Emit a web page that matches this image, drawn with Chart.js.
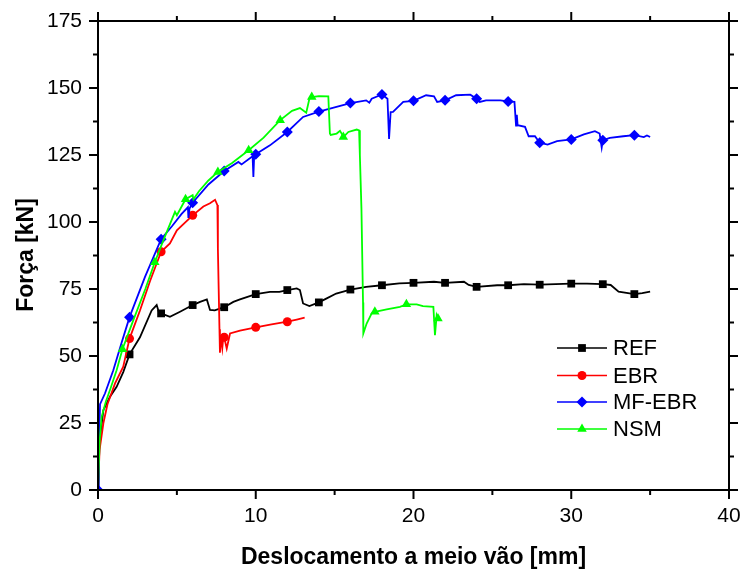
<!DOCTYPE html>
<html>
<head>
<meta charset="utf-8">
<script src="https://cdn.jsdelivr.net/npm/chart.js@4.4.1/dist/chart.umd.min.js"></script>
<style>
  html, body { margin: 0; padding: 0; background: #fff; }
</style>
</head>
<body>
<canvas id="graph" width="743" height="569"></canvas>
<script>
// tick labels
var xTicks = [0, 10, 20, 30, 40];
var yTicks = [0, 25, 50, 75, 100, 125, 150, 175];

// series: [deslocamento (mm), força (kN)]
var refData = [[0,0],[0.1,18],[0.34,29.8],[0.76,34.8],[1.18,38.5],[1.6,44],[2,50.6],[2.66,57],[3.4,67],[3.72,69],[3.85,66.5],[4,65.9],
  [4.56,64.6],[5.2,66.5],[6,69],[6.47,70.2],[6.9,71.1],[7.1,67.2],[7.4,67],[8,68.2],[8.58,70.2],[9,71.1],[10,73.1],[10.9,73.9],
  [11.5,73.9],[12,74.6],[12.6,75.2],[12.8,74.6],[13,69.6],[13.4,68.6],[14,70],[14.5,71.5],[15.1,73.3],[16,74.8],[17,75.8],[18,76.4],
  [19.1,77.1],[20,77.3],[21.3,77.7],[22,77.3],[23.2,77.7],[23.5,76.5],[24,75.8],[25.3,76.4],[26,76.4],[27,76.8],[28,76.6],[29,76.8],
  [30,77],[31,77],[32,76.8],[32.5,76.5],[33,74],[34,73.1],[34.5,73.5],[35,74]];
var ebrData = [[0,0],[0.1,15],[0.34,24.9],[0.6,32],[1.08,39.8],[1.6,46],[2,56.5],[2.66,67],[3.3,78],[4,88.9],[4.56,92],[5,96.9],
  [6,102.5],[6.68,105.8],[7.1,107],[7.42,108.3],[7.57,106.3],[7.6,90],[7.65,75],[7.7,60],[7.73,51.2],[7.8,57],[7.88,53],[7.95,57.5],
  [8,57],[8.16,52.8],[8.37,58.4],[9,59.5],[10,60.7],[11,61.8],[12,62.8],[12.6,63.6],[13.1,64.3]];
var mfData = [[0,0],[0.05,15],[0.13,32],[0.44,36],[0.97,44.7],[1.5,55],[2,64.5],[2.98,79.5],[4,93.6],[4.7,98.5],[5.3,103],[5.7,105.5],
  [5.73,101.5],[5.8,105],[6,107.2],[7,114],[8,119],[8.9,122.4],[9.1,121.5],[9.8,124.5],[9.85,116.8],[9.9,124.8],[10,125.3],[10.9,128.6],
  [12,133.6],[13,139.2],[14,141.2],[15,142.8],[16,144.4],[17,145.4],[17.2,144.5],[17.35,146],[18,147.6],[18.35,146],[18.45,131],
  [18.55,141],[18.7,141.1],[19.35,144.8],[20,145.2],[20.8,147.3],[21.3,146.9],[21.5,144.8],[22,145.4],[22.7,147.3],[23.6,147.5],
  [24,146],[24.2,144.8],[24.6,145.4],[25.5,145.4],[26,145],[26.4,144.8],[26.5,136],[26.55,140],[26.6,136.1],[27.07,135.5],[27.3,132],
  [27.7,132],[28,129.6],[28.5,128.9],[29.1,130.2],[30,130.8],[30.8,132.7],[31.5,133.9],[31.8,133],[31.93,127.8],[32,130.5],
  [32.45,131.4],[33.3,132],[34,132.4],[34.6,131.7],[34.8,132.3],[35,131.7]];
var nsmData = [[0,0],[0.1,18],[0.23,27.3],[0.5,33],[0.76,37.3],[1.18,44.7],[1.55,52.5],[2.24,63.4],[3,75],[3.6,85],[4.2,94],
  [4.88,103.8],[5,102.5],[5.55,108.5],[6,110],[6.05,108.5],[6.4,111.5],[7,115.5],[7.6,118.7],[8.5,122],[9.55,126.8],[10.5,131.5],
  [11.55,138],[12.3,141.5],[12.8,142.5],[13.2,140.8],[13.4,146],[13.55,146.6],[14,147],[14.6,146.9],[14.7,133],[14.75,132.5],
  [15.13,133],[15.34,134],[15.5,132.4],[15.55,131.7],[15.87,133.6],[16.4,134.5],[16.55,134.2],[16.6,125],[16.7,105],[16.8,70],
  [16.82,58.4],[17.03,62.1],[17.35,65.9],[17.55,66.5],[18.3,67.4],[19.14,68.3],[19.55,69.3],[20.2,69.3],[20.6,68.6],[21.26,68.3],
  [21.36,57.8],[21.47,65.2],[21.55,64],[21.68,63.4]];

// x positions carrying a marker
var refMarks = [2,4,6,8,10,12,14,16,18,20,22,24,26,28,30,32,34];
var ebrMarks = [2,4,6,8,10,12];
var mfMarks = [0,2,4,6,8,10,12,14,16,18,20,22,24,26,28,30,32,34];
var nsmMarks = [1.55,3.6,5.55,7.6,9.55,11.55,13.55,15.55,17.55,19.55,21.55];

var labels = ['REF', 'EBR', 'MF-EBR', 'NSM'];
var colors = ['#000000', '#ff0000', '#0000ff', '#00ff00'];
var styles = ['rect', 'circle', 'rectRot', 'triangle'];
var radii = [5.5, 4.5, 5.5, 5.5];

var FONT = '"Liberation Sans", Arial, sans-serif';

function makeSet(i, data, marks) {
    return {
        label: labels[i],
        data: data.map(function(p) { return {x: p[0], y: p[1]}; }),
        borderColor: colors[i],
        backgroundColor: colors[i],
        borderWidth: 1.8,
        tension: 0,
        pointStyle: styles[i],
        pointBorderWidth: 0,
        pointHoverRadius: 0,
        pointRadius: function(ctx) {
            return ctx.raw && marks.indexOf(ctx.raw.x) >= 0 ? radii[i] : 0;
        },
        order: 3 - i
    };
}

var frame = {
    id: 'frame',
    afterDraw: function(chart) {
        var ctx = chart.ctx, a = chart.chartArea;
        var xs = chart.scales.x, ys = chart.scales.y;
        ctx.save();
        ctx.strokeStyle = '#000';
        ctx.lineWidth = 2;
        ctx.strokeRect(a.left, a.top, a.right - a.left, a.bottom - a.top);

        function seg(x1, y1, x2, y2) {
            ctx.beginPath(); ctx.moveTo(x1, y1); ctx.lineTo(x2, y2); ctx.stroke();
        }
        // major + minor ticks, outward on all four sides
        xTicks.forEach(function(v, k) {
            var px = xs.getPixelForValue(v);
            seg(px, a.bottom, px, a.bottom + 9);
            seg(px, a.top, px, a.top - 9);
            if (k < xTicks.length - 1) {
                var pm = xs.getPixelForValue((v + xTicks[k + 1]) / 2);
                seg(pm, a.bottom, pm, a.bottom + 5);
                seg(pm, a.top, pm, a.top - 5);
            }
        });
        yTicks.forEach(function(v, k) {
            var py = ys.getPixelForValue(v);
            seg(a.left, py, a.left - 9, py);
            seg(a.right, py, a.right + 9, py);
            if (k < yTicks.length - 1) {
                var pm = ys.getPixelForValue((v + yTicks[k + 1]) / 2);
                seg(a.left, pm, a.left - 5, pm);
                seg(a.right, pm, a.right + 5, pm);
            }
        });

        // axis titles
        ctx.fillStyle = '#000';
        ctx.font = 'bold 23px ' + FONT;
        ctx.textAlign = 'center';
        ctx.textBaseline = 'alphabetic';
        ctx.fillText('Deslocamento a meio vão [mm]', (a.left + a.right) / 2, 564);
        ctx.save();
        ctx.translate(33, 255);
        ctx.rotate(-Math.PI / 2);
        ctx.fillText('Força [kN]', 0, 0);
        ctx.restore();

        // legend
        ctx.font = '22px ' + FONT;
        ctx.textAlign = 'left';
        ctx.textBaseline = 'middle';
        var rows = [348, 375.5, 402, 429];
        labels.forEach(function(name, i) {
            ctx.strokeStyle = colors[i];
            ctx.lineWidth = 1.5;
            seg(557, rows[i], 607, rows[i]);
            ctx.fillStyle = colors[i];
            Chart.helpers.drawPoint(ctx, {pointStyle: styles[i], radius: radii[i], borderWidth: 0, rotation: 0}, 582, rows[i]);
            ctx.fillStyle = '#000';
            ctx.fillText(name, 613, rows[i] + 1);
        });
        ctx.restore();
    }
};

var ctx1 = document.getElementById('graph').getContext('2d');
var graph = new Chart(ctx1, {
    type: 'line',
    data: {
        datasets: [
            makeSet(0, refData, refMarks),
            makeSet(1, ebrData, ebrMarks),
            makeSet(2, mfData, mfMarks),
            makeSet(3, nsmData, nsmMarks)
        ]
    },
    options: {
        responsive: false,
        animation: false,
        devicePixelRatio: 1,
        layout: { padding: { left: 0, right: 14, top: 21, bottom: 0 } },
        plugins: { legend: { display: false }, tooltip: { enabled: false } },
        scales: {
            x: {
                type: 'linear',
                min: 0, max: 40,
                afterFit: function(s) { s.height = 79; s.paddingLeft = 0; s.paddingRight = 0; },
                afterBuildTicks: function(s) { s.ticks = xTicks.map(function(v) { return {value: v}; }); },
                grid: { display: false, drawTicks: false },
                border: { display: false },
                ticks: { padding: 14, color: '#000', font: { family: FONT, size: 21 } }
            },
            y: {
                type: 'linear',
                min: 0, max: 175,
                afterFit: function(s) { s.width = 98; s.paddingTop = 0; s.paddingBottom = 0; },
                afterBuildTicks: function(s) { s.ticks = yTicks.map(function(v) { return {value: v}; }); },
                grid: { display: false, drawTicks: false },
                border: { display: false },
                ticks: { padding: 16, color: '#000', font: { family: FONT, size: 21 } }
            }
        }
    },
    plugins: [frame]
});
</script>
</body>
</html>
